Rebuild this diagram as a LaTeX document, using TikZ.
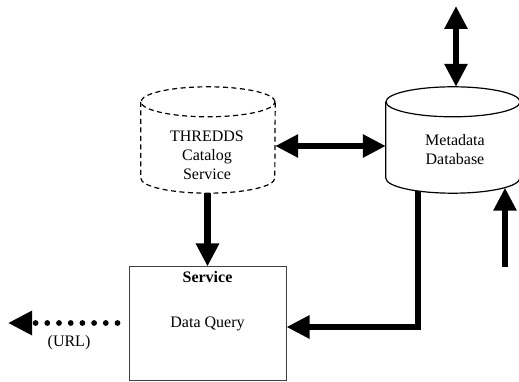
\documentclass[tikz,border=0pt]{standalone}
\usepackage{fontspec}
\setmainfont{Liberation Serif}
\usetikzlibrary{arrows.meta}
\begin{document}
\begin{tikzpicture}[x=1pt,y=1pt,
  txt/.style={font=\fontsize{16}{19}\selectfont, align=center, inner sep=0pt},
  fat/.style={line width=6.8pt, -{Triangle[width=22pt,length=23pt]}},
  fatboth/.style={line width=6.8pt, {Triangle[width=22pt,length=23pt]}-{Triangle[width=22pt,length=23pt]}},
  cylsolid/.style={line width=1.2pt},
  cyldash/.style={line width=1.2pt, dash pattern=on 5pt off 3.5pt},
  ghost/.style={inner sep=0pt, minimum width=134pt, minimum height=106pt},
  dotarrow/.style={line width=5.8pt, line cap=round, dash pattern=on 0pt off 11.7pt, -{Triangle[width=23pt,length=24pt]}}]
\useasboundingbox (0,0) rectangle (519,382);
% geometry holders
\node[ghost] (thr) at (208,242) {};
\node[ghost] (met) at (453,242) {};
% THREDDS cylinder (dashed)
\draw[cyldash] ([yshift=-15pt]thr.north west) -- ([yshift=15pt]thr.south west)
  arc[start angle=180,end angle=360,x radius=67pt,y radius=15pt] -- ([yshift=-15pt]thr.north east);
\draw[cyldash] ([yshift=-15pt]thr.north) ellipse [x radius=67pt, y radius=15pt];
% Metadata cylinder (solid)
\draw[cylsolid] ([yshift=-15pt]met.north west) -- ([yshift=15pt]met.south west)
  arc[start angle=180,end angle=360,x radius=67pt,y radius=15pt] -- ([yshift=-15pt]met.north east);
\draw[cylsolid] ([yshift=-15pt]met.north) ellipse [x radius=67pt, y radius=15pt];
% labels
\node[txt] (thrlbl) at (207,227) {THREDDS\\Catalog\\Service};
\node[txt] (metlbl) at (455,232) {Metadata\\Database};
% service box
\node[draw=black!75, line width=1pt, minimum width=157pt, minimum height=114pt, txt] (box) at (207.5,58) {Data Query};
\node[txt, font=\fontsize{16}{19}\selectfont\bfseries, anchor=north] (svc) at ([yshift=-5pt]box.north) {Service};
\node[txt] (url) at (69,39) {(URL)};
% free ends
\coordinate (top) at (456,376);
\coordinate (rin) at (505,115);
\coordinate (urltip) at (8,59);
% connectors
\draw[fatboth] ([xshift=3pt]met.north) -- (top);
\draw[fatboth] ([yshift=-6pt]thr.east) -- ([yshift=-6pt]met.west);
\draw[fat] (box.north |- thr.south) -- (box.north);
\draw[fat] ([xshift=-35pt,yshift=2pt]met.south) |- ([yshift=-3pt]box.east);
\draw[fat] (rin) -- ([xshift=52pt,yshift=5.5pt]met.south);
\draw[dotarrow] ([xshift=-11pt,yshift=1pt]box.west) -- (urltip);
\end{tikzpicture}
\end{document}
